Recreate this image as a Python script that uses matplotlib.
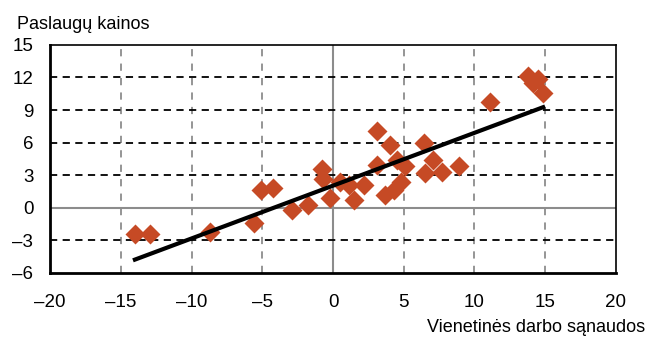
import numpy as np
import matplotlib
matplotlib.use("Agg")
import matplotlib.pyplot as plt

plt.rcParams['font.family'] = ['Liberation Sans', 'DejaVu Sans']

# unit labour costs (x) vs services prices (y)
labour_costs = [-14.0, -12.9, -8.7, -5.6, -5.1, -4.25, -2.9, -1.8,
                -0.8, -0.7, -0.2, 0.5, 1.1, 1.5, 2.2, 3.1, 3.1, 3.7,
                4.0, 4.3, 4.5, 4.8, 5.1, 6.4, 6.5, 7.1, 7.7, 8.9,
                11.1, 13.8, 14.1, 14.5, 14.85]
service_prices = [-2.4, -2.4, -2.2, -1.4, 1.6, 1.8, -0.2, 0.25,
                  3.6, 2.6, 0.9, 2.4, 2.1, 0.7, 2.1, 7.1, 3.9, 1.2,
                  5.8, 1.6, 4.4, 2.4, 3.8, 6.0, 3.2, 4.4, 3.3, 3.8,
                  9.7, 12.1, 11.5, 11.9, 10.6]

# linear trend as shown in the chart
trend_slope = 0.487
trend_intercept = 2.03

x_ticks = [-20, -15, -10, -5, 0, 5, 10, 15, 20]
y_ticks = [-6, -3, 0, 3, 6, 9, 12, 15]

fig = plt.figure(figsize=(6.48, 3.38), dpi=100)
ax = fig.add_axes([0.0772, 0.193, 0.8734, 0.674])

ax.set_xlim(-20, 20)
ax.set_ylim(-6, 15)
ax.set_xticks(x_ticks)
ax.set_yticks(y_ticks)
ax.set_xticklabels([str(t).replace('-', '\u2013') for t in x_ticks])
ax.set_yticklabels([str(t).replace('-', '\u2013') for t in y_ticks])
ax.tick_params(length=0, labelsize=13.5)
ax.tick_params(axis='x', pad=15)
ax.tick_params(axis='y', pad=12)

# grid
for t in x_ticks[1:-1]:
    if t == 0:
        ax.axvline(0, color='#8c8c8c', lw=1.5, zorder=1)
    else:
        ax.axvline(t, color='#8c8c8c', lw=1.3, ls=(0, (4, 4)), zorder=1)
for t in y_ticks[1:-1]:
    if t == 0:
        ax.axhline(0, color='#8c8c8c', lw=1.5, zorder=1)
    else:
        ax.axhline(t, color='black', lw=1.3, ls=(0, (4, 3)), zorder=1)

ax.plot(labour_costs, service_prices, 'D', color='#c64a25', ms=10, mec='none', zorder=3)

xs = np.array([min(labour_costs), max(labour_costs)])
ax.plot(xs, trend_slope * xs + trend_intercept, color='black', lw=3, zorder=4)

for s in ['left', 'bottom']:
    ax.spines[s].set_linewidth(2)
for s in ['top', 'right']:
    ax.spines[s].set_linewidth(1.2)

fig.text(0.026, 0.927, 'Paslaugų kainos', fontsize=13, ha='left', va='center')
fig.text(0.995, 0.03, 'Vienetinės darbo sąnaudos', fontsize=13, ha='right', va='center')

fig.savefig('out.png', dpi=100)
